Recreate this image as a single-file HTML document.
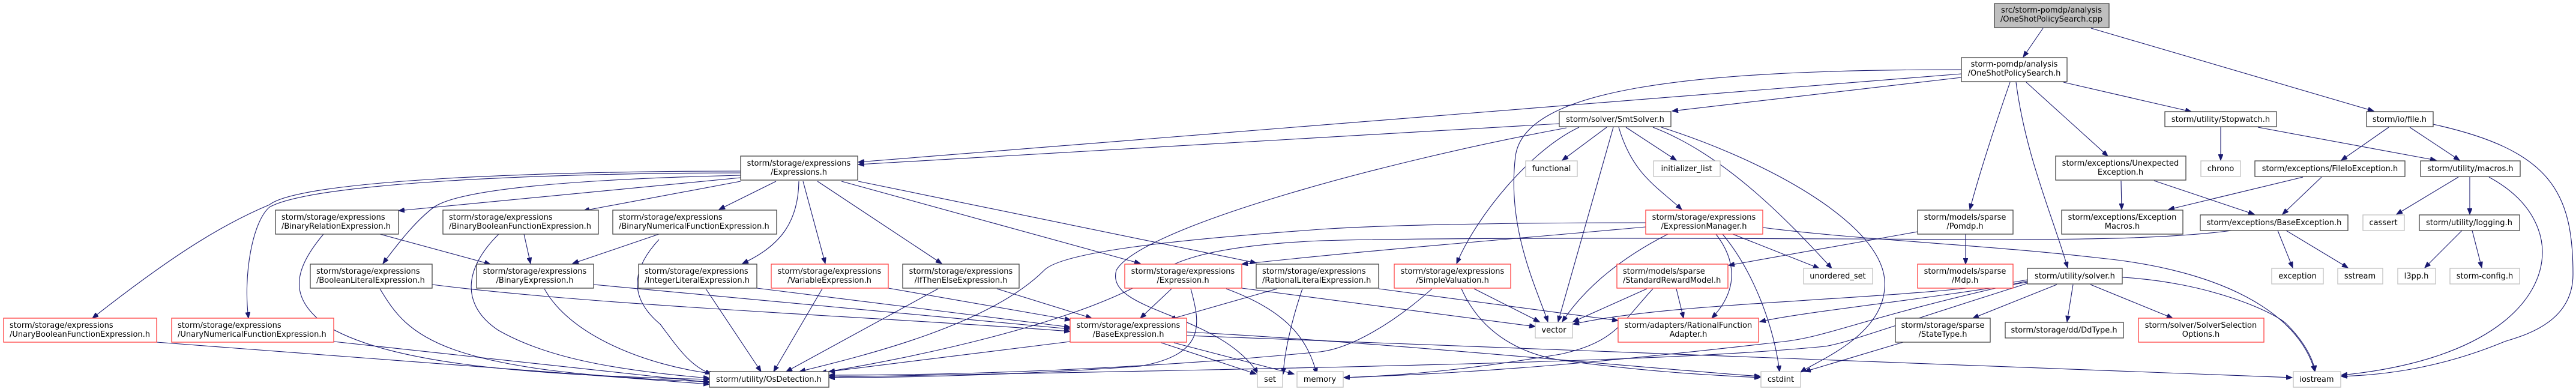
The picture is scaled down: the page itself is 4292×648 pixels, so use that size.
<!DOCTYPE html>
<html><head><meta charset="utf-8"><style>
html,body{margin:0;padding:0;background:#fff;}
svg{display:block;}
text{font-family:"DejaVu Sans","Liberation Sans",sans-serif;font-size:13px;fill:#000;}
.n{fill:#fff;stroke:#444;stroke-width:1.3;}
.r{fill:#fff;stroke:#ff4040;stroke-width:1.3;}
.l{fill:#fff;stroke:#bfbfbf;stroke-width:1.3;}
.s{fill:#bfbfbf;stroke:#444;stroke-width:1.3;}
.e{fill:none;stroke:#191970;stroke-width:1.1;marker-end:url(#a);}
</style></head><body>
<svg width="4292" height="648" viewBox="0 0 4292 648" xmlns="http://www.w3.org/2000/svg">
<defs><marker id="a" markerUnits="userSpaceOnUse" markerWidth="11" markerHeight="8" refX="10" refY="4" orient="auto"><path d="M0,0 L10,4 L0,8 z" fill="#191970" stroke="#191970"/></marker></defs>

<!-- edges -->
<path class="e" d="M3404,47 L3371,95"/>
<path class="e" d="M3484,47 L3955,185"/>
<path class="e" d="M3438,137 L3651,186"/>
<path class="e" d="M3376,137 L3512,260"/>
<path class="e" d="M3359,137 C3375,260 3420,360 3445,446"/>
<path class="e" d="M3349,137 C3320,220 3295,300 3282,349"/>
<path class="e" d="M3268,129 L2786,185"/>
<path class="e" d="M3268,123 L1430,270"/>
<path class="e" d="M3268,116 C2800,116 2540,150 2525,260 C2510,380 2560,480 2579,536"/>
<path class="e" d="M2598,206 L1430,274"/>
<path class="e" d="M2610,213 C2300,270 1900,380 1860,450 C1840,520 2030,520 2096,622"/>
<path class="e" d="M2677,212 L2603,267"/>
<path class="e" d="M2709,212 L2793,267"/>
<path class="e" d="M2688,212 L2596,536"/>
<path class="e" d="M2697,212 C2720,290 2760,310 2802,349"/>
<path class="e" d="M2631,212 C2550,250 2460,360 2427,439"/>
<path class="e" d="M2754,212 C2880,260 2990,380 3052,447"/>
<path class="e" d="M2768,212 C2950,270 3150,380 3140,480 C3135,560 3030,600 3000,620"/>
<path class="e" d="M2742,371 C2500,371 2300,375 2200,382 C1950,400 1770,420 1740,450 C1650,540 1450,590 1332,619"/>
<path class="e" d="M2742,378 C2500,400 2300,415 2069,440"/>
<path class="e" d="M2937,379 C3100,400 3300,407 3500,430 C3700,450 3830,520 3857,619"/>
<path class="e" d="M2779,390 C2700,430 2640,480 2603,536"/>
<path class="e" d="M2859,390 C2890,430 2900,480 2852,530"/>
<path class="e" d="M2870,390 C2920,450 2955,540 2965,619"/>
<path class="e" d="M2887,390 L3031,447"/>
<path class="e" d="M3195,386 L2880,442"/>
<path class="e" d="M3275,390 L3275,440"/>
<path class="e" d="M2744,481 L2621,536"/>
<path class="e" d="M2793,481 L2805,530"/>
<path class="e" d="M2754,481 C2700,540 2690,570 2600,590 C2450,615 2350,625 2239,629"/>
<path class="e" d="M2456,481 L2565,536"/>
<path class="e" d="M2435,481 C2470,560 2540,590 2600,600 C2750,620 2850,625 2933,629"/>
<path class="e" d="M2386,481 C2320,540 2250,580 2200,586 C1900,615 1600,625 1381,625"/>
<path class="e" d="M2297,481 L2696,534"/>
<path class="e" d="M2069,480 L2558,544"/>
<path class="e" d="M2128,481 L1949,532"/>
<path class="e" d="M2170,481 C2150,540 2140,590 2138,623"/>
<path class="e" d="M1952,481 L1900,530"/>
<path class="e" d="M1984,481 C2000,540 2010,590 1900,610 C1700,625 1500,629 1381,629"/>
<path class="e" d="M2043,481 C2150,520 2180,570 2194,623"/>
<path class="e" d="M1783,569 L1381,619"/>
<path class="e" d="M1935,571 L2093,623"/>
<path class="e" d="M1956,571 L2156,623"/>
<path class="e" d="M1977,559 C2400,580 3000,600 3819,629"/>
<path class="e" d="M1977,553 C2300,570 2700,610 2933,627"/>
<path class="e" d="M1234,285 C900,285 500,300 449,341 C380,370 300,415 154,530"/>
<path class="e" d="M1234,288 C900,288 520,305 449,345 C420,370 405,460 414,530"/>
<path class="e" d="M1234,292 C900,300 760,320 723,345 C690,370 660,410 638,439"/>
<path class="e" d="M1234,296 L664,351"/>
<path class="e" d="M1234,302 L972,351"/>
<path class="e" d="M1293,302 L1198,349"/>
<path class="e" d="M1331,302 C1330,370 1300,410 1237,439"/>
<path class="e" d="M1338,302 L1375,439"/>
<path class="e" d="M1362,302 L1569,439"/>
<path class="e" d="M1402,302 L1900,439"/>
<path class="e" d="M1430,302 L2093,438"/>
<path class="e" d="M633,390 L817,440"/>
<path class="e" d="M539,390 C480,460 490,500 540,540 C650,610 900,625 1182,632"/>
<path class="e" d="M873,390 L884,439"/>
<path class="e" d="M831,390 C770,450 770,510 830,550 C900,590 1000,615 1182,630"/>
<path class="e" d="M1098,390 L954,439"/>
<path class="e" d="M1098,399 C1060,440 1040,490 1100,540 C1130,580 1150,610 1185,623"/>
<path class="e" d="M720,474 C1000,510 1500,530 1783,552"/>
<path class="e" d="M633,481 C680,560 730,620 1182,636"/>
<path class="e" d="M989,474 L1783,548"/>
<path class="e" d="M907,481 C950,560 1080,610 1192,623"/>
<path class="e" d="M1261,480 L1783,545"/>
<path class="e" d="M1176,481 L1268,619"/>
<path class="e" d="M1480,480 L1784,533"/>
<path class="e" d="M1370,481 L1289,619"/>
<path class="e" d="M1661,481 L1819,530"/>
<path class="e" d="M1563,481 L1310,619"/>
<path class="e" d="M261,570 L1182,640"/>
<path class="e" d="M556,569 L1182,637"/>
<path class="e" d="M3483,474 L3620,530"/>
<path class="e" d="M3454,474 L3444,536"/>
<path class="e" d="M3427,474 L3287,530"/>
<path class="e" d="M3536,462 C3680,470 3790,520 3810,540 C3840,570 3855,600 3857,619"/>
<path class="e" d="M3378,470 C3200,500 3000,520 2932,536"/>
<path class="e" d="M3378,466 C3200,500 2800,500 2621,540"/>
<path class="e" d="M3378,468 C3100,530 3050,560 2972,569 C2700,600 2500,620 2239,629"/>
<path class="e" d="M3378,472 C3100,560 3080,570 3041,577 C2800,600 2400,610 1381,628"/>
<path class="e" d="M3171,570 L3007,619"/>
<path class="e" d="M3700,212 L3700,267"/>
<path class="e" d="M3762,212 L4059,267"/>
<path class="e" d="M3980,212 L3901,267"/>
<path class="e" d="M4015,212 L4098,267"/>
<path class="e" d="M4054,207 C4250,250 4287,320 4287,457 C4287,540 4200,560 4173,569 C4050,620 3950,625 3901,627"/>
<path class="e" d="M4096,295 L3993,357"/>
<path class="e" d="M4115,295 L4115,357"/>
<path class="e" d="M4147,295 C4230,340 4236,400 4236,420 C4236,500 4150,600 3901,625"/>
<path class="e" d="M4102,384 L4040,446"/>
<path class="e" d="M4119,384 L4135,446"/>
<path class="e" d="M3534,301 L3535,349"/>
<path class="e" d="M3589,301 L3756,357"/>
<path class="e" d="M3837,295 L3613,349"/>
<path class="e" d="M3868,295 L3803,357"/>
<path class="e" d="M3795,384 L3820,446"/>
<path class="e" d="M3809,384 L3912,446"/>
<path class="e" d="M3718,384 C3600,400 3400,399 3300,399 C2900,397 2400,395 2200,401 C2000,410 1950,440 1928,457 C1800,540 1500,600 1367,621"/>

<!-- nodes -->
<rect class="s" x="3323" y="6" width="191" height="40"/>
<text x="3418" y="21" text-anchor="middle">src/storm-pomdp/analysis</text>
<text x="3418" y="36" text-anchor="middle">/OneShotPolicySearch.cpp</text>

<rect class="n" x="3268" y="96" width="176" height="40"/>
<text x="3356" y="111" text-anchor="middle">storm-pomdp/analysis</text>
<text x="3356" y="126" text-anchor="middle">/OneShotPolicySearch.h</text>

<rect class="n" x="2598" y="186" width="186" height="25"/><text x="2691" y="203" text-anchor="middle">storm/solver/SmtSolver.h</text>
<rect class="n" x="3607" y="186" width="186" height="25"/><text x="3700" y="203" text-anchor="middle">storm/utility/Stopwatch.h</text>
<rect class="n" x="3943" y="186" width="111" height="25"/><text x="3998" y="203" text-anchor="middle">storm/io/file.h</text>

<rect class="n" x="1234" y="260" width="195" height="40"/>
<text x="1331" y="276" text-anchor="middle">storm/storage/expressions</text>
<text x="1331" y="291" text-anchor="middle">/Expressions.h</text>

<rect class="l" x="2542" y="268" width="86" height="26"/><text x="2585" y="285" text-anchor="middle">functional</text>
<rect class="l" x="2755" y="268" width="111" height="26"/><text x="2810" y="285" text-anchor="middle">initializer_list</text>

<rect class="n" x="3425" y="260" width="217" height="40"/>
<text x="3533" y="276" text-anchor="middle">storm/exceptions/Unexpected</text>
<text x="3533" y="291" text-anchor="middle">Exception.h</text>
<rect class="l" x="3667" y="268" width="66" height="26"/><text x="3700" y="285" text-anchor="middle">chrono</text>
<rect class="n" x="3757" y="268" width="250" height="26"/><text x="3882" y="285" text-anchor="middle">storm/exceptions/FileIoException.h</text>
<rect class="n" x="4033" y="268" width="166" height="26"/><text x="4116" y="285" text-anchor="middle">storm/utility/macros.h</text>

<rect class="n" x="459" y="350" width="205" height="40"/>
<text x="469" y="366">storm/storage/expressions</text>
<text x="469" y="381">/BinaryRelationExpression.h</text>
<rect class="n" x="738" y="350" width="259" height="40"/>
<text x="748" y="366">storm/storage/expressions</text>
<text x="748" y="381">/BinaryBooleanFunctionExpression.h</text>
<rect class="n" x="1021" y="350" width="273" height="40"/>
<text x="1031" y="366">storm/storage/expressions</text>
<text x="1031" y="381">/BinaryNumericalFunctionExpression.h</text>

<rect class="r" x="2742" y="350" width="195" height="40"/>
<text x="2839" y="366" text-anchor="middle">storm/storage/expressions</text>
<text x="2839" y="381" text-anchor="middle">/ExpressionManager.h</text>
<rect class="n" x="3195" y="350" width="159" height="40"/>
<text x="3274" y="366" text-anchor="middle">storm/models/sparse</text>
<text x="3274" y="381" text-anchor="middle">/Pomdp.h</text>
<rect class="n" x="3435" y="350" width="202" height="40"/>
<text x="3536" y="366" text-anchor="middle">storm/exceptions/Exception</text>
<text x="3536" y="381" text-anchor="middle">Macros.h</text>
<rect class="n" x="3666" y="358" width="246" height="26"/><text x="3789" y="375" text-anchor="middle">storm/exceptions/BaseException.h</text>
<rect class="l" x="3937" y="358" width="69" height="26"/><text x="3971" y="375" text-anchor="middle">cassert</text>
<rect class="n" x="4031" y="358" width="167" height="26"/><text x="4114" y="375" text-anchor="middle">storm/utility/logging.h</text>

<rect class="n" x="517" y="440" width="203" height="40"/>
<text x="527" y="456">storm/storage/expressions</text>
<text x="527" y="471">/BooleanLiteralExpression.h</text>
<rect class="n" x="794" y="440" width="195" height="40"/>
<text x="891" y="456" text-anchor="middle">storm/storage/expressions</text>
<text x="891" y="471" text-anchor="middle">/BinaryExpression.h</text>
<rect class="n" x="1064" y="440" width="197" height="40"/>
<text x="1074" y="456">storm/storage/expressions</text>
<text x="1074" y="471">/IntegerLiteralExpression.h</text>
<rect class="r" x="1285" y="440" width="195" height="40"/>
<text x="1382" y="456" text-anchor="middle">storm/storage/expressions</text>
<text x="1382" y="471" text-anchor="middle">/VariableExpression.h</text>
<rect class="n" x="1504" y="440" width="194" height="40"/>
<text x="1601" y="456" text-anchor="middle">storm/storage/expressions</text>
<text x="1601" y="471" text-anchor="middle">/IfThenElseExpression.h</text>
<rect class="r" x="1874" y="440" width="195" height="40"/>
<text x="1971" y="456" text-anchor="middle">storm/storage/expressions</text>
<text x="1971" y="471" text-anchor="middle">/Expression.h</text>
<rect class="n" x="2093" y="440" width="204" height="40"/>
<text x="2103" y="456">storm/storage/expressions</text>
<text x="2103" y="471">/RationalLiteralExpression.h</text>
<rect class="r" x="2323" y="440" width="194" height="40"/>
<text x="2420" y="456" text-anchor="middle">storm/storage/expressions</text>
<text x="2420" y="471" text-anchor="middle">/SimpleValuation.h</text>
<rect class="r" x="2694" y="440" width="185" height="40"/>
<text x="2704" y="456">storm/models/sparse</text>
<text x="2704" y="471">/StandardRewardModel.h</text>
<rect class="l" x="3005" y="447" width="115" height="26"/><text x="3062" y="464" text-anchor="middle">unordered_set</text>
<rect class="r" x="3195" y="440" width="159" height="40"/>
<text x="3274" y="456" text-anchor="middle">storm/models/sparse</text>
<text x="3274" y="471" text-anchor="middle">/Mdp.h</text>
<rect class="n" x="3378" y="447" width="158" height="26"/><text x="3457" y="464" text-anchor="middle">storm/utility/solver.h</text>
<rect class="l" x="3785" y="447" width="86" height="26"/><text x="3828" y="464" text-anchor="middle">exception</text>
<rect class="l" x="3895" y="447" width="75" height="26"/><text x="3932" y="464" text-anchor="middle">sstream</text>
<rect class="l" x="3995" y="447" width="63" height="26"/><text x="4026" y="464" text-anchor="middle">l3pp.h</text>
<rect class="l" x="4082" y="447" width="116" height="26"/><text x="4140" y="464" text-anchor="middle">storm-config.h</text>

<rect class="r" x="6" y="530" width="255" height="40"/>
<text x="16" y="546">storm/storage/expressions</text>
<text x="16" y="561">/UnaryBooleanFunctionExpression.h</text>
<rect class="r" x="286" y="530" width="270" height="40"/>
<text x="296" y="546">storm/storage/expressions</text>
<text x="296" y="561">/UnaryNumericalFunctionExpression.h</text>
<rect class="r" x="1783" y="530" width="194" height="40"/>
<text x="1880" y="546" text-anchor="middle">storm/storage/expressions</text>
<text x="1880" y="561" text-anchor="middle">/BaseExpression.h</text>
<rect class="l" x="2558" y="537" width="62" height="26"/><text x="2589" y="554" text-anchor="middle">vector</text>
<rect class="r" x="2696" y="530" width="234" height="40"/>
<text x="2813" y="546" text-anchor="middle">storm/adapters/RationalFunction</text>
<text x="2813" y="561" text-anchor="middle">Adapter.h</text>
<rect class="n" x="3158" y="530" width="158" height="40"/>
<text x="3237" y="546" text-anchor="middle">storm/storage/sparse</text>
<text x="3237" y="561" text-anchor="middle">/StateType.h</text>
<rect class="n" x="3341" y="537" width="197" height="26"/><text x="3439" y="554" text-anchor="middle">storm/storage/dd/DdType.h</text>
<rect class="r" x="3563" y="530" width="209" height="40"/>
<text x="3667" y="546" text-anchor="middle">storm/solver/SolverSelection</text>
<text x="3667" y="561" text-anchor="middle">Options.h</text>

<rect class="n" x="1182" y="619" width="199" height="26"/><text x="1281" y="636" text-anchor="middle">storm/utility/OsDetection.h</text>
<rect class="l" x="2095" y="619" width="42" height="26"/><text x="2116" y="636" text-anchor="middle">set</text>
<rect class="l" x="2161" y="619" width="77" height="26"/><text x="2199" y="636" text-anchor="middle">memory</text>
<rect class="l" x="2934" y="619" width="66" height="26"/><text x="2967" y="636" text-anchor="middle">cstdint</text>
<rect class="l" x="3821" y="619" width="79" height="26"/><text x="3860" y="636" text-anchor="middle">iostream</text>
</svg>
</body></html>
